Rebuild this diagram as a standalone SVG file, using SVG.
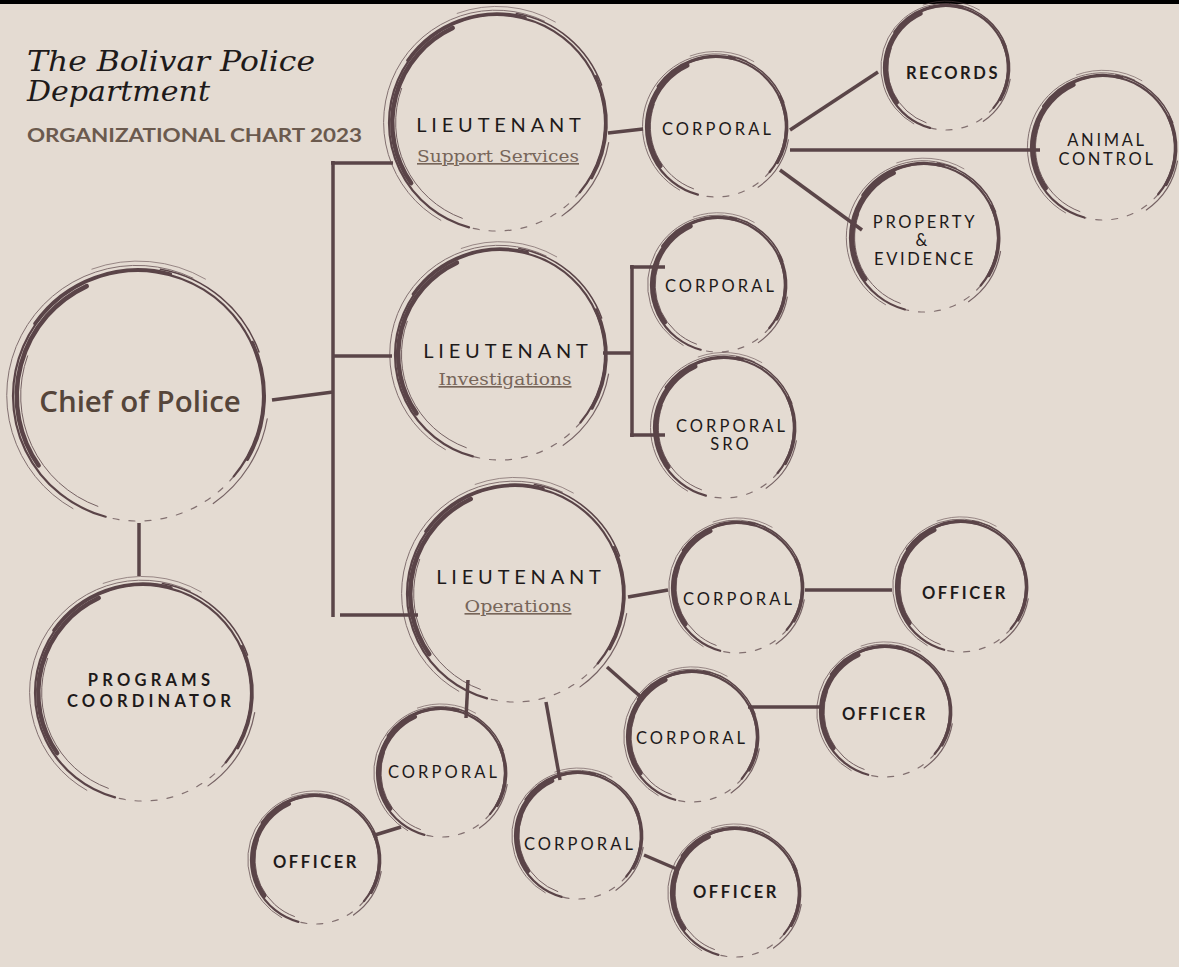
<svg xmlns="http://www.w3.org/2000/svg" xmlns:xlink="http://www.w3.org/1999/xlink" width="1179" height="967" viewBox="0 0 1179 967">
<style>
.bg{fill:#e4dbd2}
.r path{fill:none;stroke:#5a4448;vector-effect:non-scaling-stroke;stroke-linecap:round}
.conn line{stroke:#5a4548;stroke-width:3.5;stroke-linecap:butt}
.lt{font-family:Lato,"Noto Sans",sans-serif;font-size:20px;letter-spacing:4.8px;fill:#1e1a1a;text-anchor:middle}
.sub{font-family:"DejaVu Serif","Liberation Serif",serif;font-size:16.5px;fill:#77665a;text-anchor:middle;text-decoration:underline}
.cp{font-family:Lato,"Noto Sans",sans-serif;font-size:16.5px;letter-spacing:3.1px;fill:#1e1a1a;text-anchor:middle}
.bd{font-family:Lato,"Noto Sans",sans-serif;font-size:16.5px;font-weight:bold;letter-spacing:2.6px;fill:#1e1a1a;text-anchor:middle}
</style>
<defs>
<g id="ring" class="r">
<path d="M -25.9 96.6 A 100 100 0 1 1 76.6 64.3" style="stroke-width:2.2"/>
<path d="M -52 90.1 A 104 104 0 0 1 44 -94.3" style="stroke-width:1;opacity:.7"/>
<path d="M -79.5 55.6 A 97 97 0 0 1 -41 -87.9" style="stroke-width:4.5"/>
<path d="M -82.7 -57.9 A 101 101 0 0 1 26.1 -97.6" style="stroke-width:3"/>
<path d="M 91.5 -42.7 A 101 101 0 0 1 87.5 50.5" style="stroke-width:3.5"/>
<path d="M 103.4 18.2 A 105 105 0 0 1 60.2 86" style="stroke-width:1.2;opacity:.8"/>
<path d="M 76.6 64.3 A 100 100 0 0 1 -25.9 96.6" style="stroke-width:1.2;stroke-dasharray:6 10;opacity:.7"/>
<path d="M -36.9 -101.5 A 108 108 0 0 1 54 -93.5" style="stroke-width:.8;opacity:.7"/>
<path d="M -32.1 88.3 A 94 94 0 0 1 -88.3 -32.1" style="stroke-width:1;opacity:.8"/>
<path d="M 17.9 -101.4 A 103 103 0 0 1 96.8 -35.2" style="stroke-width:1.5"/>
</g>
</defs>
<rect class="bg" x="0" y="0" width="1179" height="967"/>
<rect x="0" y="0" width="1179" height="4" fill="#000"/>
<g id="title">
<text x="27" y="71" font-family="DejaVu Serif, Liberation Serif, serif" font-style="italic" font-size="28" fill="#1e1a1a" textLength="288" lengthAdjust="spacingAndGlyphs">The Bolivar Police</text>
<text x="27" y="101" font-family="DejaVu Serif, Liberation Serif, serif" font-style="italic" font-size="28" fill="#1e1a1a" textLength="183" lengthAdjust="spacingAndGlyphs">Department</text>
<text x="27" y="142" font-family="Lato, Noto Sans, sans-serif" font-weight="bold" font-size="18" fill="#6b5a4e" textLength="335" lengthAdjust="spacingAndGlyphs">ORGANIZATIONAL CHART 2023</text>
</g>
<g id="connectors" class="conn">
<line x1="272" y1="400" x2="333" y2="392"/>
<line x1="333" y1="161" x2="333" y2="617"/>
<line x1="331" y1="163" x2="393" y2="163"/>
<line x1="333" y1="356" x2="392" y2="356"/>
<line x1="340" y1="615" x2="418" y2="615"/>
<line x1="139" y1="523" x2="139" y2="576"/>
<line x1="608" y1="133" x2="643" y2="129"/>
<line x1="790" y1="130" x2="878" y2="72"/>
<line x1="790" y1="150" x2="1040" y2="150"/>
<line x1="780" y1="170" x2="862" y2="230"/>
<line x1="603" y1="353" x2="632" y2="353"/>
<line x1="632" y1="265" x2="632" y2="437"/>
<line x1="630" y1="267" x2="665" y2="267"/>
<line x1="630" y1="435" x2="665" y2="435"/>
<line x1="628" y1="597" x2="668" y2="590"/>
<line x1="805" y1="590" x2="892" y2="590"/>
<line x1="607" y1="667" x2="642" y2="698"/>
<line x1="748" y1="707" x2="820" y2="707"/>
<line x1="468" y1="680" x2="466" y2="718"/>
<line x1="375" y1="835" x2="401" y2="827"/>
<line x1="546" y1="702" x2="560" y2="780"/>
<line x1="644" y1="855" x2="679" y2="870"/>
</g>
<g id="chief">
<use xlink:href="#ring" href="#ring" transform="translate(138 396) scale(1.25)"/>
<text x="140" y="412" font-family="Open Sans, Noto Sans, sans-serif" font-weight="600" font-size="29.5" fill="#55453a" text-anchor="middle">Chief of Police</text>
</g>
<g id="programs">
<use href="#ring" transform="translate(143 693) scale(1.08)"/>
<text class="bd" x="151" y="686" style="letter-spacing:4.2px">PROGRAMS</text>
<text class="bd" x="151" y="707" style="letter-spacing:4.2px">COORDINATOR</text>
</g>
<g id="lt-support">
<use href="#ring" transform="translate(497 123) scale(1.08)"/>
<text class="lt" x="501" y="132">LIEUTENANT</text>
<text class="sub" x="498" y="162" textLength="162" lengthAdjust="spacingAndGlyphs">Support Services</text>
</g>
<g id="lt-investigations">
<use href="#ring" transform="translate(500 355) scale(1.05)"/>
<text class="lt" x="508" y="358">LIEUTENANT</text>
<text class="sub" x="505" y="385" textLength="133" lengthAdjust="spacingAndGlyphs">Investigations</text>
</g>
<g id="lt-operations">
<use href="#ring" transform="translate(515 594) scale(1.08)"/>
<text class="lt" x="521" y="584">LIEUTENANT</text>
<text class="sub" x="518" y="612" textLength="107" lengthAdjust="spacingAndGlyphs">Operations</text>
</g>
<g id="corp-support">
<use href="#ring" transform="translate(716 127) scale(.7)"/>
<text class="cp" x="718" y="135">CORPORAL</text>
</g>
<g id="records">
<use href="#ring" transform="translate(946 68) scale(.62)"/>
<text class="bd" x="953" y="79">RECORDS</text>
</g>
<g id="animal-control">
<use href="#ring" transform="translate(1103 148) scale(.72)"/>
<text class="cp" x="1107" y="146" style="letter-spacing:2.7px">ANIMAL</text>
<text class="cp" x="1107" y="165" style="letter-spacing:2.7px">CONTROL</text>
</g>
<g id="property-evidence">
<use href="#ring" transform="translate(924 238) scale(.74)"/>
<text class="cp" x="925" y="228" style="letter-spacing:2.7px">PROPERTY</text>
<text class="cp" x="923" y="246">&amp;</text>
<text class="cp" x="925" y="265" style="letter-spacing:2.7px">EVIDENCE</text>
</g>
<g id="corp-investigations">
<use href="#ring" transform="translate(718 285) scale(.67)"/>
<text class="cp" x="721" y="292">CORPORAL</text>
</g>
<g id="corp-sro">
<use href="#ring" transform="translate(724 428) scale(.7)"/>
<text class="cp" x="732" y="432">CORPORAL</text>
<text class="cp" x="731" y="450">SRO</text>
</g>
<g id="corp-ops1">
<use href="#ring" transform="translate(737 588) scale(.65)"/>
<text class="cp" x="739" y="605">CORPORAL</text>
</g>
<g id="officer1">
<use href="#ring" transform="translate(961 587) scale(.65)"/>
<text class="bd" x="965" y="599">OFFICER</text>
</g>
<g id="corp-ops2">
<use href="#ring" transform="translate(692 737) scale(.65)"/>
<text class="cp" x="692" y="744">CORPORAL</text>
</g>
<g id="officer2">
<use href="#ring" transform="translate(885 712) scale(.65)"/>
<text class="bd" x="885" y="720">OFFICER</text>
</g>
<g id="corp-ops3">
<use href="#ring" transform="translate(441 773) scale(.64)"/>
<text class="cp" x="444" y="778">CORPORAL</text>
</g>
<g id="officer3">
<use href="#ring" transform="translate(315 860) scale(.64)"/>
<text class="bd" x="316" y="868">OFFICER</text>
</g>
<g id="corp-ops4">
<use href="#ring" transform="translate(578 836) scale(.63)"/>
<text class="cp" x="580" y="850">CORPORAL</text>
</g>
<g id="officer4">
<use href="#ring" transform="translate(735 893) scale(.64)"/>
<text class="bd" x="736" y="898">OFFICER</text>
</g>
</svg>
